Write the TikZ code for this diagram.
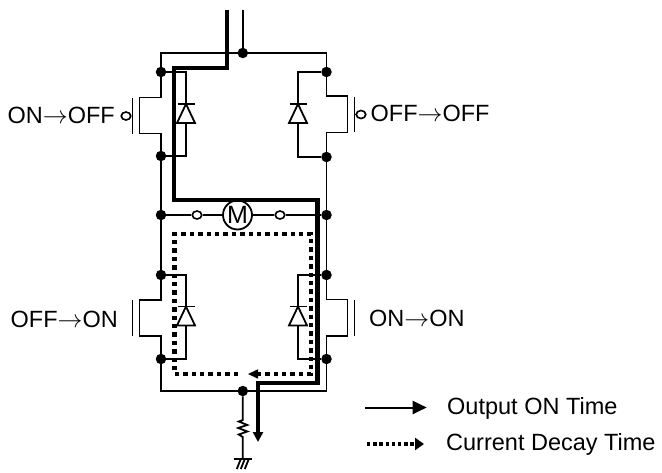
\documentclass[tikz,border=0pt]{standalone}
\usepackage{fontspec}
\setmainfont{Liberation Sans}
\usetikzlibrary{arrows.meta}
\usetikzlibrary{shapes.geometric}

\tikzset{
    wire/.style={line width=1.8pt},
    current/.style={line width=4.3pt, line join=miter},
    decay/.style={line width=4.2pt, dash pattern=on 4.4pt off 4pt},
    junction/.style={circle, fill=black, inner sep=0pt, minimum size=10.5pt},
    bubble/.style={ellipse, draw, line width=1.6pt, fill=white, inner sep=0pt, minimum width=9.5pt, minimum height=8pt},
    label/.style={inner sep=0pt, font=\fontsize{23.5}{26}\selectfont},
    legend/.style={inner sep=0pt, anchor=west, font=\fontsize{23.5}{28}\selectfont},
}

\begin{document}
\begin{tikzpicture}[
        x=1pt, y=-1pt,
        declare function={
            RailL=161;
            RailR=326.5;
            DiodeL=186;
            DiodeR=298;
            BodyL=139.5;
            BodyR=347.5;
            GateL=132.5;
            GateR=354.5;
            Feed=242.8;
            TopY=53;
            BotY=391;
            MotorY=215;
        }
    ]
        \useasboundingbox (0, 0) rectangle (662, 472);

        % junctions
        \node[junction] (topdot) at (Feed, TopY) {};
        \node[junction] (botdot) at (Feed, BotY) {};
        \node[junction] (uld) at (RailL, 72) {};
        \node[junction] (uls) at (RailL, 156) {};
        \node[junction] (urd) at (RailR, 72) {};
        \node[junction] (urs) at (RailR, 157) {};
        \node[junction] (mleft) at (RailL, MotorY) {};
        \node[junction] (mright) at (RailR, MotorY) {};
        \node[junction] (lld) at (RailL, 275) {};
        \node[junction] (lls) at (RailL, 359) {};
        \node[junction] (lrd) at (RailR, 275) {};
        \node[junction] (lrs) at (RailR, 359) {};

        % supply and ground rails
        \coordinate (vin) at (Feed, 10);
        \draw[wire] (vin) -- (topdot);
        \draw[wire] (uld) -- (RailL, TopY) -- (RailR, TopY) -- (urd);
        \draw[wire] (lls) -- (RailL, BotY) -- (RailR, BotY) -- (lrs);
        \draw[wire] (uls) -- (mleft) -- (lld);
        \draw[wire] (urs) -- (mright) -- (lrd);

        % transistor bodies
        \draw[wire] (uld) -- (RailL, 97.5) -- (BodyL, 97.5) -- (BodyL, 133.5) -- (RailL, 133.5) -- (uls);
        \draw[wire] (urd) -- (RailR, 96) -- (BodyR, 96) -- (BodyR, 132.5) -- (RailR, 132.5) -- (urs);
        \draw[wire] (lld) -- (RailL, 300) -- (BodyL, 300) -- (BodyL, 336) -- (RailL, 336) -- (lls);
        \draw[wire] (lrd) -- (RailR, 299.5) -- (BodyR, 299.5) -- (BodyR, 336) -- (RailR, 336) -- (lrs);

        % gates
        \draw[wire] (GateL, 98) -- (GateL, 134);
        \draw[wire] (GateR, 97) -- (GateR, 132);
        \draw[wire] (GateL, 300) -- (GateL, 336);
        \draw[wire] (GateR, 300) -- (GateR, 336);
        \node[bubble] (ulgate) at (126, 116) {};
        \node[bubble] (urgate) at (361, 114.5) {};
        \draw[wire] (ulgate) -- (GateL, 116);
        \draw[wire] (urgate) -- (GateR, 114.5);

        % diodes
        \foreach \dx/\top/\first/\second in {DiodeL/104/uld/uls, DiodeR/104/urd/urs, DiodeL/306.5/lld/lls, DiodeR/306.5/lrd/lrs} {
            \draw[wire] (\first) -| ({\dx}, {\top + 19});
            \draw[wire] (\second) -| ({\dx}, {\top + 19});
            \draw[wire, fill=white, line join=miter] ({\dx}, \top) -- ({\dx - 9}, {\top + 19}) -- ({\dx + 9}, {\top + 19}) -- cycle;
            \draw[wire] ({\dx - 8.5}, \top) -- ({\dx + 8.5}, \top);
        }

        % motor
        \node[circle, draw, line width=1.8pt, fill=white, inner sep=0pt, minimum size=29pt, font=\fontsize{25}{27}\selectfont] (motor) at (237.5, MotorY) {M};
        \node[bubble] (mtermL) at (197, MotorY) {};
        \node[bubble] (mtermR) at (280, MotorY) {};
        \draw[wire] (mleft) -- (mtermL);
        \draw[wire] (mtermL) -- (motor);
        \draw[wire] (motor) -- (mtermR);
        \draw[wire] (mtermR) -- (mright);

        % sense resistor and ground
        \coordinate (gnd) at (Feed, 459);
        \draw[wire] (botdot) -- (Feed, 420) -- (Feed - 4, 421.5) -- (Feed + 4.5, 425) -- (Feed - 4.5, 428) -- (Feed + 4.5, 431.5) -- (Feed - 4, 434.5) -- (Feed, 437) -- (gnd);
        \draw[wire] (Feed - 9, 459) -- (Feed + 9, 459);
        \draw[wire] (Feed - 2, 459) -- (Feed - 6, 469);
        \draw[wire] (Feed + 2, 459) -- (Feed - 2, 469);
        \draw[wire] (Feed + 6, 459) -- (Feed + 2, 469);

        % current paths
        \draw[decay] (238, 374) -- (174.5, 374) -- (174.5, 234.3) -- (311, 234.3) -- (311, 374) -- (258, 374);
        \fill (248, 374) -- (258, 369.3) -- (258, 378.7) -- cycle;
        \draw[current, -{Triangle[length=10pt, width=10pt]}] (226.7, 10) -- (226.7, 68) -- (174, 68) -- (174, 200) -- (317.5, 200) -- (317.5, 382.7) -- (258, 382.7) -- (258, 442);

        % labels
        \node[label, anchor=east] (ulname) at (115, 115) {ON\(\rightarrow\)OFF};
        \node[label, anchor=west] (urname) at (370.5, 113) {OFF\(\rightarrow\)OFF};
        \node[label, anchor=east] (llname) at (118, 319) {OFF\(\rightarrow\)ON};
        \node[label, anchor=west] (lrname) at (369, 318) {ON\(\rightarrow\)ON};

        % legend
        \node[legend] (ontext) at (447, 408) {Output ON Time};
        \node[legend] (decaytext) at (446, 444.5) {Current Decay Time};
        \coordinate (onstart) at (365, 407.5);
        \coordinate (onend) at (426.7, 407.5);
        \coordinate (decaystart) at (367, 444);
        \coordinate (decayend) at (424, 444);
        \draw[line width=2pt, -{Triangle[length=14pt, width=13pt]}] (onstart) -- (onend);
        \draw[line width=3.2pt, dash pattern=on 3.4pt off 2.8pt, -{Triangle[length=9pt, width=12pt]}] (decaystart) -- (decayend);
\end{tikzpicture}
\end{document}
